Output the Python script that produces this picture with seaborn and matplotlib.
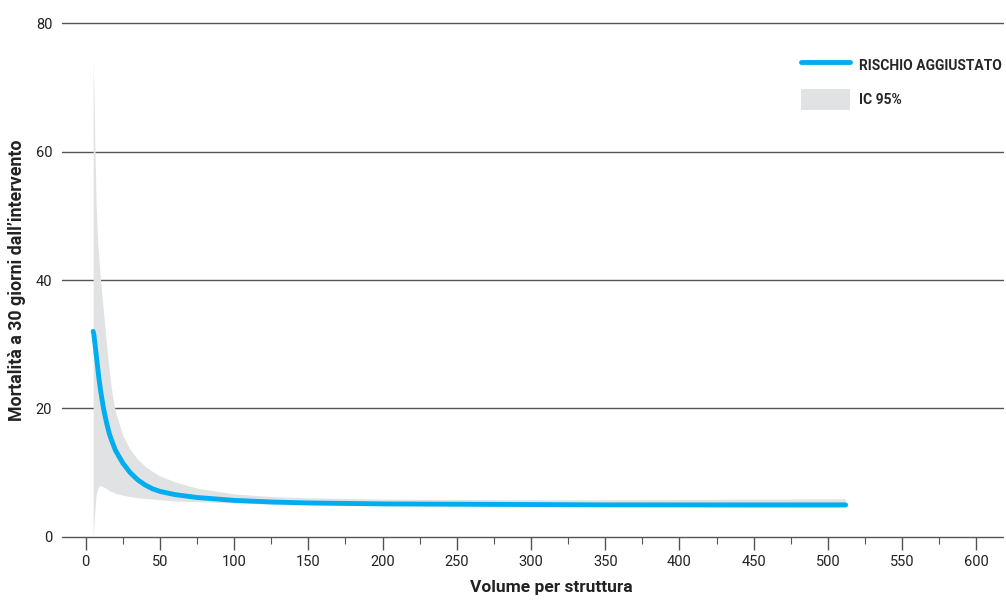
import numpy as np
import pandas as pd
import matplotlib
matplotlib.use("Agg")
import matplotlib.pyplot as plt
import seaborn as sns
from matplotlib.lines import Line2D
from matplotlib.patches import Patch
from matplotlib.ticker import MultipleLocator

# values
volume = [5, 5.5, 6, 7, 8, 9, 10, 12, 14, 16, 18, 20, 25, 30, 35, 40, 45, 50, 60, 75,
          100, 125, 150, 200, 250, 300, 350, 400, 450, 512]
rischio = [32.0, 31.5, 30.5, 28.5, 26.5, 24.5, 22.8, 20.0, 17.8, 16.0, 14.7, 13.5, 11.5,
           10.0, 8.9, 8.1, 7.5, 7.1, 6.6, 6.15, 5.7, 5.45, 5.3, 5.15, 5.1, 5.05, 5.0,
           5.0, 5.0, 5.0]
ic_upper = [74, 70, 63, 52, 46, 43, 40, 35, 30, 25.5, 22, 19.5, 15.8, 13.6, 12.1, 11.0,
            10.2, 9.5, 8.6, 7.6, 6.7, 6.3, 6.1, 5.9, 5.85, 5.8, 5.8, 5.85, 5.9, 5.95]
ic_lower = [0, 1.5, 3.5, 6.5, 7.5, 7.9, 8.0, 7.8, 7.5, 7.2, 7.0, 6.8, 6.5, 6.3, 6.1,
            6.0, 5.9, 5.8, 5.6, 5.5, 5.3, 5.1, 5.0, 4.9, 4.85, 4.8, 4.75, 4.7, 4.6, 4.55]

x_ticks = [0, 50, 100, 150, 200, 250, 300, 350, 400, 450, 500, 550, 600]
y_ticks = [0, 20, 40, 60, 80]

BLUE = "#00aeef"
GREY_FILL = "#e1e2e4"
GRID = "#555555"
TXT = "#222222"

sns.set_style("white")
plt.rcParams["font.family"] = ["Roboto", "DejaVu Sans"]

df = pd.DataFrame({"volume": volume, "rischio": rischio,
                   "lo": ic_lower, "hi": ic_upper})

fig = plt.figure(figsize=(10.06, 6.01), dpi=100)
ax = fig.add_axes([0.0616, 0.1065, 0.9354, 0.8552])

ax.fill_between(df["volume"], df["lo"], df["hi"], color=GREY_FILL, linewidth=0)
sns.lineplot(data=df, x="volume", y="rischio", ax=ax, color=BLUE, linewidth=3.5,
             solid_capstyle="round")

ax.set_xlim(-16, 618)
ax.set_ylim(0, 80)
ax.set_xticks(x_ticks)
ax.xaxis.set_minor_locator(MultipleLocator(25))
ax.set_yticks(y_ticks)

for yv in y_ticks:
    ax.axhline(yv, color=GRID, linewidth=1.0, zorder=0.5, clip_on=False)

for s in ["top", "right", "left", "bottom"]:
    ax.spines[s].set_visible(False)

ax.tick_params(axis="x", which="major", direction="out", length=9, width=1,
               color=GRID, labelsize=10.5, labelcolor=TXT, pad=4, bottom=True)
ax.tick_params(axis="x", which="minor", direction="out", length=5, width=0.8,
               color=GRID, bottom=True)
ax.tick_params(axis="y", length=0, labelsize=10.5, labelcolor=TXT, pad=7)

ax.set_xlabel("Volume per struttura", fontsize=12.5, fontweight="bold", color=TXT)
ax.set_ylabel("Mortalità a 30 giorni dall\u2019intervento", fontsize=12.8,
              fontweight="bold", color=TXT)
ax.xaxis.set_label_coords(0.52, -0.083)
ax.yaxis.set_label_coords(-0.038, 0.5)

handles = [Line2D([0], [0], color=BLUE, linewidth=3.5, solid_capstyle="round"),
           Patch(facecolor=GREY_FILL, edgecolor="none")]
ax.legend(handles, ["RISCHIO AGGIUSTATO", "IC 95%"], loc="upper left",
          bbox_to_anchor=(0.772, 0.962), frameon=False, handlelength=3.5,
          handleheight=1.9, labelspacing=1.0, handletextpad=0.7,
          prop={"weight": "bold", "size": 10})

fig.savefig("out.png", dpi=100)
